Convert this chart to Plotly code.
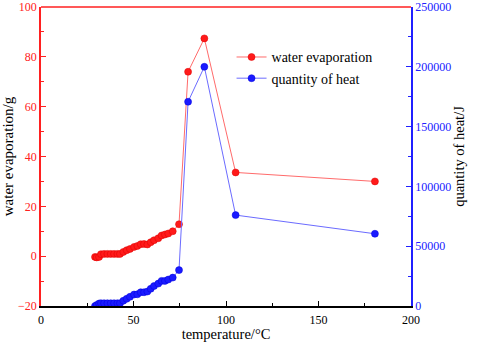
import plotly.graph_objects as go

temp_low = [29.2, 30.1, 31.4, 32.4, 34.1, 35.9, 37.7, 39.5, 41.3, 42.7, 44.5, 46.3, 48.1,
            50.3, 52.1, 53.9, 55.7, 57.5, 59.3, 61.1, 63.4, 65.2, 67.0, 68.8, 71.2]
temp_high = [74.6, 79.5, 88.3, 105.2, 180.5]
temperature = temp_low + temp_high

water_evaporation = [-0.3, -0.5, -0.3, 0.8, 0.9, 0.9, 0.9, 0.9, 0.9, 0.9, 1.7, 2.4, 2.9,
                     3.7, 4.1, 4.8, 4.9, 4.7, 5.6, 6.4, 7.2, 8.3, 8.7, 9.1, 10.0,
                     12.8, 74.0, 87.4, 33.6, 30.0]
quantity_of_heat = [0, 830, 2080, 2300, 2300, 2300, 2300, 2300, 2300, 2300, 4400, 6000, 7700,
                    9600, 9800, 11500, 11500, 12100, 14400, 16700, 18750, 21000, 21000, 22100, 23750,
                    30000, 170800, 200000, 76000, 60400]

FONT = "Liberation Serif, Times New Roman, serif"

fig = go.Figure()
fig.add_trace(go.Scatter(
    x=temperature, y=water_evaporation, name="water evaporation",
    mode="lines+markers", line=dict(color="#ff6b6b", width=1),
    marker=dict(color="#ff1a1a", size=7, line=dict(color="#dd0000", width=0.5)),
    yaxis="y"))
fig.add_trace(go.Scatter(
    x=temperature, y=quantity_of_heat, name="quantity of heat",
    mode="lines+markers", line=dict(color="#6b6bff", width=1),
    marker=dict(color="#1a1aff", size=7, line=dict(color="#0000dd", width=0.5)),
    yaxis="y2"))

fig.update_layout(
    width=477, height=342,
    margin=dict(l=41, r=66, t=7, b=36, autoexpand=False),
    paper_bgcolor="white", plot_bgcolor="white",
    font=dict(family=FONT, size=12, color="black"),
    showlegend=True,
    legend=dict(x=0.515, y=0.885, xanchor="left", yanchor="top",
                bgcolor="rgba(0,0,0,0)", font=dict(family=FONT, size=14),
                itemwidth=30, tracegroupgap=0),
    xaxis=dict(range=[0, 200], dtick=50, tick0=0, showgrid=False, zeroline=False,
               automargin=False,
               showline=True, linecolor="black", linewidth=1.5,
               ticks="inside", ticklen=5, tickcolor="black",
               minor=dict(ticks="inside", ticklen=3, dtick=25, tick0=0, tickcolor="black"),
               tickfont=dict(family=FONT, size=12, color="black"), ticklabelstandoff=2,
               title=dict(text="temperature/°C", font=dict(family=FONT, size=14.5), standoff=0)),
    yaxis=dict(range=[-20, 100], dtick=20, tick0=0, showgrid=False, zeroline=False,
               automargin=False,
               showline=True, linecolor="#ff2020", linewidth=1.5,
               ticks="inside", ticklen=5, tickcolor="#ff2020",
               minor=dict(ticks="inside", ticklen=3, dtick=10, tick0=0, tickcolor="#ff2020"),
               tickfont=dict(family=FONT, size=12, color="#ff2020"),
               title=dict(text="water evaporation/g", font=dict(family=FONT, size=15), standoff=2)),
    yaxis2=dict(range=[0, 250000], dtick=50000, tick0=0, overlaying="y", side="right",
                automargin=False, tickformat="d",
                showgrid=False, zeroline=False,
                showline=True, linecolor="#2020ff", linewidth=1.5,
                ticks="inside", ticklen=5, tickcolor="#2020ff",
                minor=dict(ticks="inside", ticklen=3, dtick=25000, tick0=0, tickcolor="#2020ff"),
                tickfont=dict(family=FONT, size=12, color="#2020ff"),
                title=dict(text="quantity of heat/J", font=dict(family=FONT, size=14.5), standoff=4)),
    shapes=[dict(type="line", xref="paper", yref="paper", x0=0, x1=1, y0=1, y1=1,
                 line=dict(color="#ff2020", width=1.5))],
)

fig.write_html("out.html", config={"displayModeBar": False},
               post_script="document.body.style.margin='0';document.body.style.overflow='hidden';")
